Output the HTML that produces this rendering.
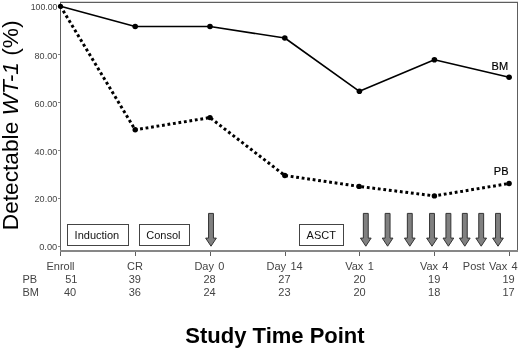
<!DOCTYPE html>
<html><head><meta charset="utf-8">
<style>
html,body{margin:0;padding:0;background:#fff;}
body{width:520px;height:349px;overflow:hidden;}
svg{display:block;will-change:transform;}
text{font-family:"Liberation Sans",sans-serif;}
</style></head>
<body>
<svg width="520" height="349" viewBox="0 0 520 349">
<rect x="0" y="0" width="520" height="349" fill="#fff"/>
<!-- frame -->
<g shape-rendering="crispEdges">
<rect x="60" y="1" width="458" height="1" fill="#d8d8d8"/>
<rect x="60" y="2" width="458" height="1" fill="#5e5e5e"/>
<rect x="60" y="2" width="1" height="254" fill="#5e5e5e"/>
<rect x="517" y="2" width="1" height="249" fill="#5e5e5e"/>
<rect x="60" y="250" width="458" height="2" fill="#878787"/>
</g>
<!-- y ticks -->
<g fill="#8a8a8a" shape-rendering="crispEdges">
<rect x="58" y="6" width="2" height="1"/>
<rect x="58" y="54" width="2" height="1"/>
<rect x="58" y="102" width="2" height="1"/>
<rect x="58" y="150" width="2" height="1"/>
<rect x="58" y="198" width="2" height="1"/>
<rect x="58" y="246" width="2" height="1"/>
</g>
<!-- x ticks -->
<g fill="#5e5e5e" shape-rendering="crispEdges">
<rect x="135" y="252" width="1" height="4"/>
<rect x="210" y="252" width="1" height="4"/>
<rect x="285" y="252" width="1" height="4"/>
<rect x="359" y="252" width="1" height="4"/>
<rect x="434" y="252" width="1" height="4"/>
<rect x="509" y="252" width="1" height="4"/>
</g>
<!-- y labels -->
<g fill="#444" font-size="9.7" text-anchor="end">
<text x="57.5" y="10.4" textLength="26.8" lengthAdjust="spacingAndGlyphs">100.00</text>
<text x="57.2" y="58.5" textLength="22.6" lengthAdjust="spacingAndGlyphs">80.00</text>
<text x="57.2" y="106.5" textLength="22.6" lengthAdjust="spacingAndGlyphs">60.00</text>
<text x="57.2" y="154.5" textLength="22.6" lengthAdjust="spacingAndGlyphs">40.00</text>
<text x="57.2" y="202.4" textLength="22.6" lengthAdjust="spacingAndGlyphs">20.00</text>
<text x="57.2" y="250.1" textLength="18" lengthAdjust="spacingAndGlyphs">0.00</text>
</g>
<!-- y title -->
<text transform="translate(18,230.2) rotate(-90)" font-size="22.7" fill="#000">Detectable <tspan font-style="italic">WT-1</tspan> (%)</text>

<!-- phase boxes -->
<g fill="#fff" stroke="#444" stroke-width="1" shape-rendering="crispEdges">
<rect x="67.5" y="224.5" width="61" height="20.5"/>
<rect x="139.5" y="224.5" width="50" height="20.5"/>
<rect x="299.5" y="224.5" width="44" height="20.5"/>
</g>
<g fill="#111" font-size="11">
<text x="74.6" y="238.8">Induction</text>
<text x="146.3" y="238.8">Consol</text>
<text x="306.6" y="238.8">ASCT</text>
</g>

<!-- arrows -->
<defs>
<path id="arr" d="M-2.45,0.4 H2.45 V25.1 H5.35 L0,33.2 L-5.35,25.1 H-2.45 Z" fill="#808080" stroke="#333" stroke-width="1" stroke-linejoin="miter"/>
</defs>
<g transform="translate(0,213)">
<use href="#arr" x="211"/>
<use href="#arr" x="365.8"/>
<use href="#arr" x="387.6"/>
<use href="#arr" x="409.8"/>
<use href="#arr" x="432"/>
<use href="#arr" x="448.4"/>
<use href="#arr" x="464.8"/>
<use href="#arr" x="481.2"/>
<use href="#arr" x="498"/>
</g>

<!-- data lines -->
<polyline points="60.5,6.3 135.2,26.5 210,26.5 284.8,38 359.4,91.3 434.4,59.8 509.1,77.2" fill="none" stroke="#000" stroke-width="1.6" stroke-linejoin="round"/>
<g fill="none" stroke="#000" stroke-width="3" stroke-dasharray="2.8 2.75">
<line x1="60.5" y1="6.3" x2="135.2" y2="129.8" stroke-dashoffset="0.3"/>
<line x1="135.2" y1="129.8" x2="210" y2="117.6" stroke-dashoffset="0.6"/>
<line x1="210" y1="117.6" x2="284.8" y2="175.5" stroke-dashoffset="-0.89"/>
<line x1="284.8" y1="175.5" x2="359.1" y2="186.4" stroke-dashoffset="-0.42"/>
<line x1="359.1" y1="186.4" x2="434.4" y2="195.9" stroke-dashoffset="-2.23"/>
<line x1="434.4" y1="195.9" x2="509.1" y2="183.5" stroke-dashoffset="1.57"/>
</g>
<g fill="#000">
<circle cx="60.5" cy="6.3" r="2.6"/>
<circle cx="135.2" cy="26.5" r="2.8"/>
<circle cx="210" cy="26.5" r="2.8"/>
<circle cx="284.8" cy="38" r="2.8"/>
<circle cx="359.4" cy="91.3" r="2.8"/>
<circle cx="434.4" cy="59.8" r="2.8"/>
<circle cx="509.1" cy="77.2" r="2.8"/>
<circle cx="135.2" cy="129.8" r="2.7"/>
<circle cx="210" cy="117.6" r="2.7"/>
<circle cx="284.8" cy="175.5" r="2.7"/>
<circle cx="359.1" cy="186.4" r="2.7"/>
<circle cx="434.4" cy="195.9" r="2.7"/>
<circle cx="509.1" cy="183.5" r="2.7"/>
</g>
<g fill="#000" font-size="11" stroke="#000" stroke-width="0.2">
<text x="491.6" y="69.7">BM</text>
<text x="493.8" y="175.4">PB</text>
</g>

<!-- x labels / table -->
<g fill="#444" font-size="11" text-anchor="middle" word-spacing="1.2">
<text x="60.5" y="269.8">Enroll</text>
<text x="134.9" y="269.8">CR</text>
<text x="209.4" y="269.8">Day 0</text>
<text x="284.6" y="269.8">Day 14</text>
<text x="359.5" y="269.8">Vax 1</text>
<text x="434.2" y="269.8">Vax 4</text>
<text x="490.2" y="269.8">Post Vax 4</text>

<text x="71.3" y="282.7">51</text>
<text x="134.8" y="282.7">39</text>
<text x="209.6" y="282.7">28</text>
<text x="284.4" y="282.7">27</text>
<text x="359.6" y="282.7">20</text>
<text x="434.2" y="282.7">19</text>
<text x="508.6" y="282.7">19</text>

<text x="70" y="295.6">40</text>
<text x="134.8" y="295.6">36</text>
<text x="209.6" y="295.6">24</text>
<text x="284.4" y="295.6">23</text>
<text x="359.6" y="295.6">20</text>
<text x="434.2" y="295.6">18</text>
<text x="508.6" y="295.6">17</text>
</g>
<g fill="#444" font-size="11">
<text x="22.5" y="282.7">PB</text>
<text x="22.5" y="295.6">BM</text>
</g>

<!-- x title -->
<text x="275" y="342.8" font-size="22" font-weight="bold" fill="#000" text-anchor="middle">Study Time Point</text>
</svg>
</body></html>
